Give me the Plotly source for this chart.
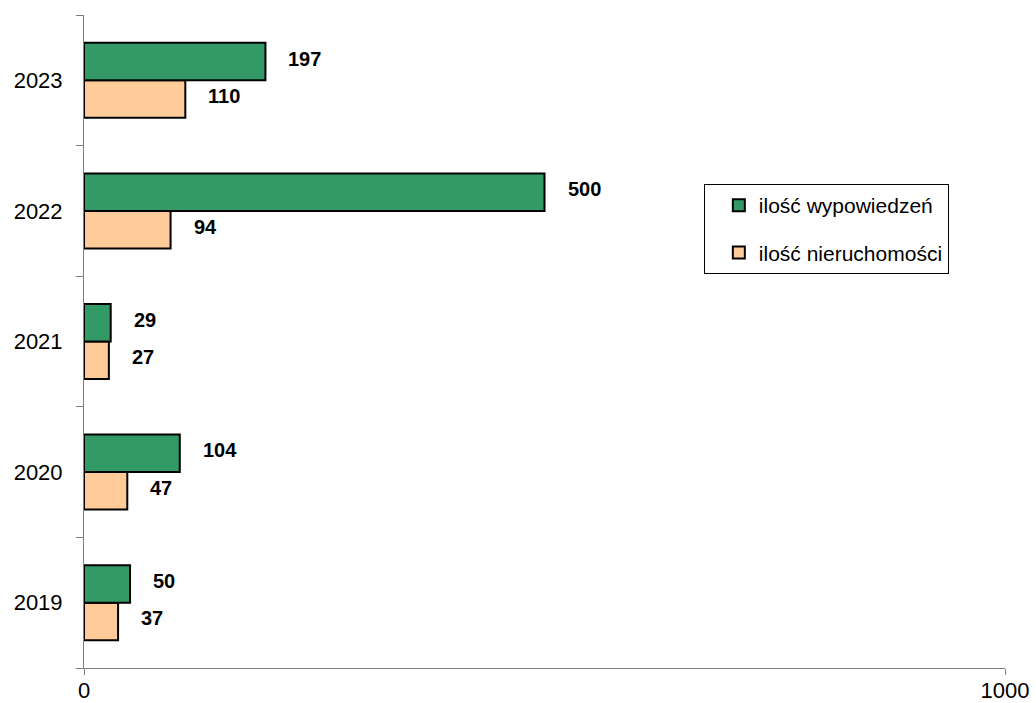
import plotly.graph_objects as go

years = ["2019", "2020", "2021", "2022", "2023"]
wypowiedzen = [50, 104, 29, 500, 197]
nieruchomosci = [37, 47, 27, 94, 110]
name_w = "ilość wypowiedzeń"
name_n = "ilość nieruchomości"
x_ticks = [0, 1000]

GREEN = "#339966"
ORANGE = "#FFCC99"
FONT = "Liberation Sans, Arial, sans-serif"
BARGAP = 0.426

fig = go.Figure()
fig.add_trace(go.Bar(
    y=years, x=nieruchomosci, orientation="h", name=name_n,
    marker=dict(color=ORANGE, line=dict(color="black", width=2)),
    legendgroup="n", legendrank=2,
))
fig.add_trace(go.Bar(
    y=years, x=wypowiedzen, orientation="h", name=name_w,
    marker=dict(color=GREEN, line=dict(color="black", width=2)),
    legendgroup="w", legendrank=1,
))

bw = (1 - BARGAP) / 2
for i, (vw, vn) in enumerate(zip(wypowiedzen, nieruchomosci)):
    for v, off in ((vw, bw / 2), (vn, -bw / 2)):
        fig.add_annotation(
            x=v, y=i + off, xref="x", yref="y", text=f"<b>{v}</b>",
            showarrow=False, xanchor="left", yanchor="middle", xshift=21, yshift=3,
            font=dict(family=FONT, size=20, color="black"),
        )

fig.update_layout(
    width=1036, height=703,
    margin=dict(l=84, r=31, t=15, b=35, autoexpand=False),
    paper_bgcolor="white", plot_bgcolor="white",
    barmode="group", bargap=BARGAP, bargroupgap=0,
    font=dict(family=FONT, size=21, color="black"),
    showlegend=True,
    legend=dict(
        x=0.673, y=0.741, xanchor="left", yanchor="top",
        bordercolor="black", borderwidth=1, bgcolor="white",
        font=dict(family=FONT, size=21, color="black"),
        traceorder="grouped", tracegroupgap=17, indentation=14,
    ),
)
fig.update_xaxes(
    range=[0, 1000], tickvals=x_ticks, ticktext=[str(t) for t in x_ticks],
    showline=True, linecolor="#808080", linewidth=1,
    ticks="outside", ticklen=6, tickcolor="#808080",
    ticklabelstandoff=-3,
    showgrid=False, zeroline=False, automargin=False,
    tickfont=dict(family=FONT, size=22, color="black"),
)
fig.update_yaxes(
    type="category", categoryorder="array", categoryarray=years,
    range=[-0.5, 4.5],
    showline=True, linecolor="#808080", linewidth=1,
    ticks="outside", ticklen=7, tickcolor="#808080", tickson="boundaries",
    ticklabelstandoff=16, automargin=False,
    showgrid=False, zeroline=False,
    tickfont=dict(family=FONT, size=22, color="black"),
)

fig.write_html(
    "out.html",
    config={"displayModeBar": False},
    post_script="document.body.style.margin='0';document.body.style.overflow='hidden';",
)
